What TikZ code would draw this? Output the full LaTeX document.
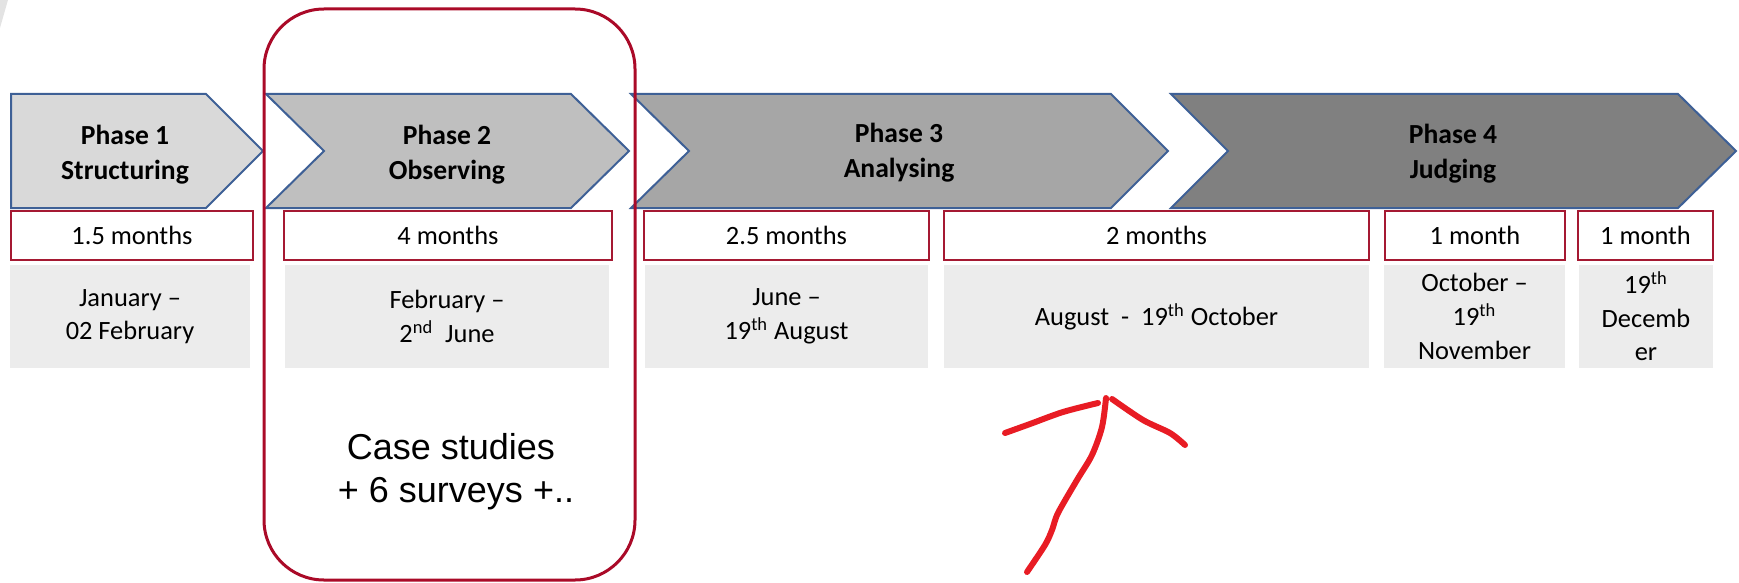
\documentclass[tikz,border=0pt]{standalone}
\usepackage{fontspec}
\setmainfont{Carlito}
\newfontfamily\arialf{Liberation Sans}
\definecolor{outblue}{RGB}{62,96,150}
\definecolor{durred}{RGB}{165,25,50}
\definecolor{casered}{RGB}{170,10,40}
\definecolor{arrowred}{RGB}{232,28,36}
\definecolor{dategray}{RGB}{236,236,236}
\definecolor{pone}{RGB}{217,217,217}
\definecolor{ptwo}{RGB}{191,191,191}
\definecolor{pthree}{RGB}{166,166,166}
\definecolor{pfour}{RGB}{128,128,128}
\begin{document}
\begin{tikzpicture}[x=0.5pt,y=-0.5pt,
  phase/.style={draw=outblue, line width=1pt, line join=miter},
  durbox/.style={draw=durred, line width=1pt, fill=white, anchor=north west,
    minimum height=24.5pt, inner sep=0pt, outer sep=0pt,
    font=\fontsize{13.2}{16.8}\selectfont},
  datebox/.style={fill=dategray, anchor=north west, minimum height=51.5pt,
    inner sep=0pt, outer sep=0pt, align=center,
    font=\fontsize{13.2}{16.8}\selectfont},
  ptext/.style={font=\fontsize{13.8}{17.6}\selectfont\bfseries, align=center,
    text=black, inner sep=0pt},
  casetext/.style={font=\arialf\fontsize{18}{21.5}\selectfont, align=center, inner sep=0pt},
  handline/.style={draw=arrowred, line width=3pt, line cap=round, line join=round},
]
\useasboundingbox (0,0) rectangle (1739,583);
% faint sliver top-left
\fill[gray!22] (0,0) -- (8,0) -- (0,28) -- cycle;
% chevrons
\draw[phase, fill=pone] (11,94) -- (206,94) -- (263,151) -- (206,208) -- (11,208) -- cycle;
\draw[phase, fill=ptwo] (266,94) -- (571,94) -- (629,151) -- (571,208) -- (266,208) -- (324,151) -- cycle;
\draw[phase, fill=pthree] (631,94) -- (1111,94) -- (1168,151) -- (1111,208) -- (631,208) -- (689,151) -- cycle;
\draw[phase, fill=pfour] (1171,94) -- (1678,94) -- (1736,151) -- (1678,208) -- (1171,208) -- (1228,151) -- cycle;
\node[ptext] (p1) at (125,155) {Phase 1\\Structuring};
\node[ptext] (p2) at (447,155) {Phase 2\\Observing};
\node[ptext] (p3) at (899,153) {Phase 3\\Analysing};
\node[ptext] (p4) at (1453,154) {Phase 4\\Judging};
% duration boxes
\node[durbox, minimum width=121pt] (d1) at (11,211) {1.5 months};
\node[durbox, minimum width=164pt] (d2) at (284,211) {4 months};
\node[durbox, minimum width=142.5pt] (d3) at (644,211) {2.5 months};
\node[durbox, minimum width=212.5pt] (d4) at (944,211) {2 months};
\node[durbox, minimum width=90pt] (d5) at (1385,211) {1 month};
\node[durbox, minimum width=67.5pt] (d6) at (1578,211) {1 month};
% date boxes
\node[datebox, minimum width=120pt] (g1) at (10,265) {January --\\02 February};
\node[datebox, minimum width=162pt] (g2) at (285,265) {February --\\2\textsuperscript{nd}\ \ June};
\node[datebox, minimum width=141.5pt] (g3) at (645,265) {June --\\19\textsuperscript{th} August};
\node[datebox, minimum width=212.5pt] (g4) at (944,265) {August\ \ -\ \ 19\textsuperscript{th} October};
\node[datebox, minimum width=90.5pt] (g5) at (1384,265) {October --\\19\textsuperscript{th}\\November};
\node[datebox, minimum width=67pt] (g6) at (1579,265) {19\textsuperscript{th}\\Decemb\\er};
% case studies frame
\draw[draw=casered, line width=1.5pt, rounded corners=30pt] (264,9) rectangle (635,580);
\node[casetext] (case) at (451,472) {Case studies\\\ + 6 surveys +..};
% hand-drawn arrow
\draw[handline] plot[smooth] coordinates {(1027,572) (1045,545) (1052,530) (1058,513) (1077,480) (1092,455) (1102,427) (1106,398)};
\draw[handline] plot[smooth] coordinates {(1005,433) (1030,424) (1063,412) (1098,403)};
\draw[handline] plot[smooth] coordinates {(1112,399) (1143,420) (1170,433) (1185,445)};
\end{tikzpicture}
\end{document}
